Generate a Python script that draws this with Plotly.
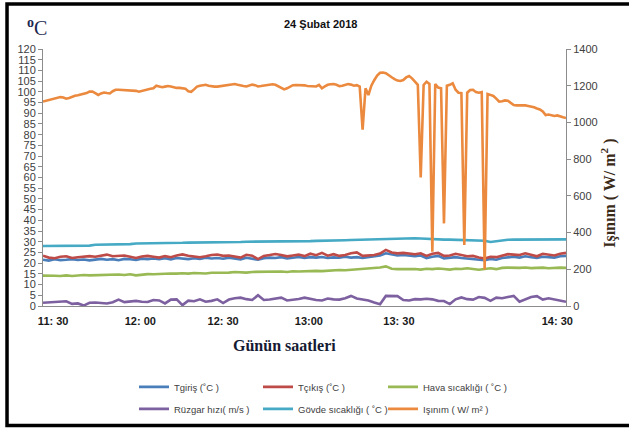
import plotly.graph_objects as go

# ---- data ----
minutes = list(range(0, 181, 2))        # 2-minute samples, 11:30 -> 14:30
minutes_fine = list(range(0, 181))      # 1-minute samples for radiation

tick_pos = [3.5, 33.5, 62, 91.5, 122.5, 177]
tick_text = ["11: 30", "12: 00", "12: 30", "13:00", "13: 30", "14: 30"]

t_giris = [21.6, 21.2, 21.8, 21.4, 21.6, 21.9, 21.5, 21.7, 21.3, 21.8,
           22.0, 21.6, 21.9, 21.4, 22.0, 21.8, 21.5, 22.1, 21.9, 22.2,
           21.9, 22.3, 21.8, 22.4, 22.2, 21.9, 22.3, 22.0, 22.5, 22.2,
           22.4, 22.1, 22.6, 22.3, 21.8, 22.5, 22.2, 21.6, 22.3, 22.6,
           22.4, 22.8, 22.2, 22.5, 22.9, 22.4, 22.8, 22.6, 22.9, 22.4,
           22.7, 22.5, 23.0, 22.6, 22.8, 22.4, 22.9, 23.2, 23.6, 24.6,
           24.0, 23.6, 23.8, 23.5, 23.2, 23.6, 22.4, 23.0, 23.4, 22.2,
           22.6, 22.8, 22.4, 22.2, 22.0, 21.8, 21.4, 22.0, 21.6, 22.4,
           22.8, 23.0, 22.6, 23.2, 22.8, 22.4, 23.0, 22.8, 22.6, 23.2,
           23.4]

t_cikis = [23.5, 22.6, 22.3, 23.0, 23.2, 22.4, 22.8, 23.0, 23.3, 23.0,
           23.6, 24.0, 23.2, 23.3, 23.6, 23.0, 22.4, 23.1, 23.4, 23.0,
           22.6, 23.3, 22.8, 23.6, 24.1, 23.5, 23.2, 22.8, 23.2, 23.8,
           24.0, 23.4, 23.6, 23.2, 22.6, 23.9, 23.5, 21.9, 23.4, 23.8,
           24.3, 23.8, 23.2, 23.6, 24.0, 23.3, 24.4, 23.7, 24.8, 23.5,
           24.2, 23.4, 23.8, 24.6, 25.0, 23.4, 23.6, 23.8, 24.5, 26.2,
           25.0, 24.6, 24.8, 24.4, 24.2, 24.6, 23.4, 24.4, 24.8, 23.4,
           23.6, 24.4, 23.8, 23.2, 23.4, 22.6, 22.2, 23.0, 22.8, 23.4,
           24.2, 24.0, 23.8, 24.6, 24.0, 23.2, 24.4, 24.0, 23.6, 24.4,
           24.8]

hava = [14.2, 14.0, 14.1, 14.0, 14.3, 14.0, 14.2, 14.5, 14.3, 14.4,
        14.6, 14.5, 14.8, 14.7, 14.5, 14.8, 14.3, 14.6, 14.9, 14.8,
        15.0, 14.9, 15.2, 15.1, 15.3, 15.1, 15.4, 15.3, 15.2, 15.5,
        15.5, 15.7, 15.6, 15.9, 15.8, 15.6, 15.9, 16.0, 15.8, 16.0,
        16.0, 16.1, 15.9, 16.2, 16.1, 16.3, 16.2, 16.4, 16.3, 16.5,
        16.6, 16.8, 16.7, 16.9, 17.0, 17.2, 17.3, 17.6, 18.0, 18.5,
        17.4, 17.2, 17.3, 17.5, 17.3, 17.0, 17.4, 17.2, 17.5, 17.3,
        17.0, 17.4, 17.3, 17.6, 17.2, 16.9, 17.3, 17.6, 17.2, 17.8,
        17.9, 17.7, 17.8, 18.0, 17.7, 17.8, 17.9, 17.6, 17.8, 17.9,
        17.8]

ruzgar = [1.5, 1.6, 1.7, 1.8, 2.2, 1.0, 1.2, 0.2, 1.5, 1.6,
          1.3, 1.2, 1.8, 3.0, 1.8, 2.0, 2.4, 2.0, 1.9, 2.8,
          2.6, 1.2, 3.0, 3.1, 0.4, 2.5, 2.2, 3.1, 2.0, 2.4,
          3.1, 1.4, 3.0, 3.6, 3.9, 3.2, 2.8, 5.0, 2.8, 3.0,
          3.4, 3.9, 2.6, 2.9, 3.3, 3.9, 3.2, 2.8, 2.6, 3.5,
          3.1, 3.0, 3.6, 4.7, 3.5, 3.0, 2.6, 1.6, 0.8, 4.7,
          4.8, 4.6, 2.8, 2.6, 3.2, 3.1, 3.4, 3.1, 2.4, 2.3,
          0.9, 3.1, 4.0, 3.2, 3.0, 4.2, 3.8, 2.4, 3.9, 3.6,
          4.2, 4.7, 2.0, 3.2, 4.2, 4.6, 3.0, 3.6, 3.0, 2.5,
          2.0]

govde = [28.0, 28.0, 28.0, 28.0, 28.0, 28.0, 28.0, 28.0, 28.2, 28.6,
         28.6, 28.6, 28.6, 28.6, 28.8, 28.9, 29.2, 29.2, 29.2, 29.3,
         29.3, 29.3, 29.4, 29.5, 29.5, 29.6, 29.6, 29.6, 29.6, 29.7,
         29.7, 29.8, 29.8, 29.8, 29.9, 30.0, 30.0, 30.1, 30.0, 30.1,
         30.1, 30.2, 30.2, 30.2, 30.3, 30.3, 30.3, 30.4, 30.4, 30.5,
         30.6, 30.6, 30.7, 30.8, 30.9, 30.9, 31.0, 31.1, 31.2, 31.4,
         31.5, 31.6, 31.6, 31.6, 31.6, 31.5, 31.3, 31.2, 31.0, 31.0,
         31.0, 30.9, 30.9, 30.8, 30.8, 30.7, 30.5, 29.9, 30.3, 30.7,
         30.9, 31.0, 31.0, 31.1, 31.1, 31.1, 31.1, 31.1, 31.1, 31.1,
         31.1]

isinim = [1114, 1118, 1122, 1127, 1130, 1134, 1138, 1136, 1129, 1133,
          1140, 1145, 1148, 1152, 1154, 1160, 1168, 1168, 1160, 1150,
          1158, 1163, 1160, 1158, 1170, 1178, 1178, 1177, 1176, 1178,
          1177, 1176, 1172, 1167, 1172, 1177, 1180, 1183, 1186, 1200,
          1196, 1192, 1195, 1198, 1196, 1190, 1188, 1188, 1188, 1184,
          1170, 1167, 1180, 1195, 1200, 1203, 1205, 1200, 1196, 1195,
          1195, 1197, 1199, 1200, 1203, 1206, 1209, 1205, 1200, 1198,
          1196, 1200, 1206, 1203, 1196, 1198, 1200, 1202, 1205, 1208,
          1205, 1196, 1185, 1180, 1186, 1195, 1203, 1204, 1204, 1203,
          1202, 1198, 1196, 1195, 1196, 1205, 1186, 1196, 1205, 1208,
          1209, 1205, 1198, 1200, 1205, 1209, 1206, 1200, 1203, 1195,
          960, 1186, 1149, 1200, 1230, 1255, 1270, 1272, 1268, 1255,
          1246, 1236, 1228, 1226, 1231, 1245, 1253, 1240, 1220, 1205,
          700, 1204, 1222, 1210, 296, 1209, 1190, 1186, 450, 1200,
          1205, 1213, 1178, 1162, 1160, 332, 1162, 1177, 1178, 1165,
          1162, 1165, 199, 1155, 1150, 1144, 1130, 1113, 1115, 1120,
          1118, 1105, 1095, 1093, 1093, 1095, 1093, 1090, 1087, 1083,
          1076, 1071, 1060, 1040, 1043, 1038, 1035, 1038, 1031, 1028,
          1024]

names = ["Tgiriş (˚C )", "Tçıkış (˚C )", "Hava sıcaklığı ( ˚C )",
         "Rüzgar hızı( m/s )", "Gövde sıcaklığı ( ˚C )", "Işınım ( W/ m² )"]
colors = ["#4A7EBB", "#BE4B48", "#98B954", "#7D60A0", "#46AAC5", "#EB8A3E"]
legend_ids = ["legend", "legend2", "legend3", "legend", "legend2", "legend3"]

fig = go.Figure()
series = [t_giris, t_cikis, hava, ruzgar, govde]
for i, s in enumerate(series):
    fig.add_trace(go.Scatter(
        x=minutes, y=s, mode="lines", name=names[i],
        line=dict(color=colors[i], width=2.6),
        legend=legend_ids[i], legendgroup="g%d" % i,
    ))
fig.add_trace(go.Scatter(
    x=minutes_fine, y=isinim, mode="lines", name=names[5], yaxis="y2",
    line=dict(color=colors[5], width=2.6), legend=legend_ids[5], legendgroup="g5",
))

narrow = "Liberation Sans Narrow, Liberation Sans, Arial"
tick_font = dict(family=narrow, size=11, color="#404040")
axis_col = "#8C8C8C"
leg_font = dict(family="Liberation Sans, Arial", size=9.5, color="#404040")


def leg(xpx):
    return dict(orientation="v", xref="container", yref="container",
                x=xpx / 629, xanchor="left", y=0.132, yanchor="top",
                bgcolor="rgba(0,0,0,0)", font=leg_font, itemwidth=30,
                traceorder="grouped", tracegroupgap=3)


fig.update_layout(
    width=629, height=429,
    margin=dict(l=43, r=63, t=49, b=123, autoexpand=False),
    paper_bgcolor="white", plot_bgcolor="white",
    showlegend=True,
    xaxis=dict(range=[0, 180], tickvals=tick_pos,
               ticktext=["<b>%s</b>" % t for t in tick_text],
               showgrid=False, zeroline=False, showline=True,
               linecolor=axis_col, linewidth=1, ticks="",
               tickfont=dict(family=narrow, size=11, color="#1a1a1a"),
               ticklabelstandoff=5),
    yaxis=dict(range=[0, 120], dtick=5, showgrid=False, zeroline=False,
               showline=True, linecolor=axis_col, linewidth=1,
               ticks="outside", ticklen=4, tickcolor=axis_col,
               tickfont=tick_font),
    yaxis2=dict(range=[0, 1400], dtick=200, overlaying="y", side="right",
                showgrid=False, zeroline=False, showline=True,
                linecolor=axis_col, linewidth=1, ticks="outside",
                ticklen=4, tickcolor=axis_col, tickfont=tick_font),
    legend=leg(134),
    legend2=leg(258),
    legend3=leg(383),
)

fig.add_annotation(text="<b>24 Şubat 2018</b>", xref="paper", yref="paper", x=0.530, y=1.097,
                   xanchor="center", yanchor="middle", showarrow=False,
                   font=dict(family="Liberation Sans, Arial", size=11, color="#111111"))
fig.add_annotation(text="<b><sup>o</sup></b>C", xref="paper", yref="paper", x=-0.034, y=1.085,
                   xanchor="left", yanchor="middle", showarrow=False,
                   font=dict(family="Liberation Serif, Times New Roman", size=20, color="#1c2850"))
fig.add_annotation(text="<b>Günün saatleri</b>", xref="paper", yref="paper", x=0.461, y=-0.152,
                   xanchor="center", yanchor="middle", showarrow=False,
                   font=dict(family="Liberation Serif, Times New Roman", size=16, color="#151a33"))
fig.add_annotation(text="<b>Işınım ( W/ m<sup>2</sup> )</b>", xref="paper", yref="paper", x=1.082, y=0.44,
                   xanchor="center", yanchor="middle", textangle=-90, showarrow=False,
                   font=dict(family="Liberation Serif, Times New Roman", size=16, color="#3a2a18"))

# outer frame of the picture
fig.add_shape(type="path", xref="paper", yref="paper",
              path="M 1.13,1.175 L -0.0688,1.175 L -0.0688,-0.465 L 1.13,-0.465",
              line=dict(color="black", width=3.5))

fig.write_html("out.html", config={"displayModeBar": False},
               post_script="document.body.style.margin='0';")
